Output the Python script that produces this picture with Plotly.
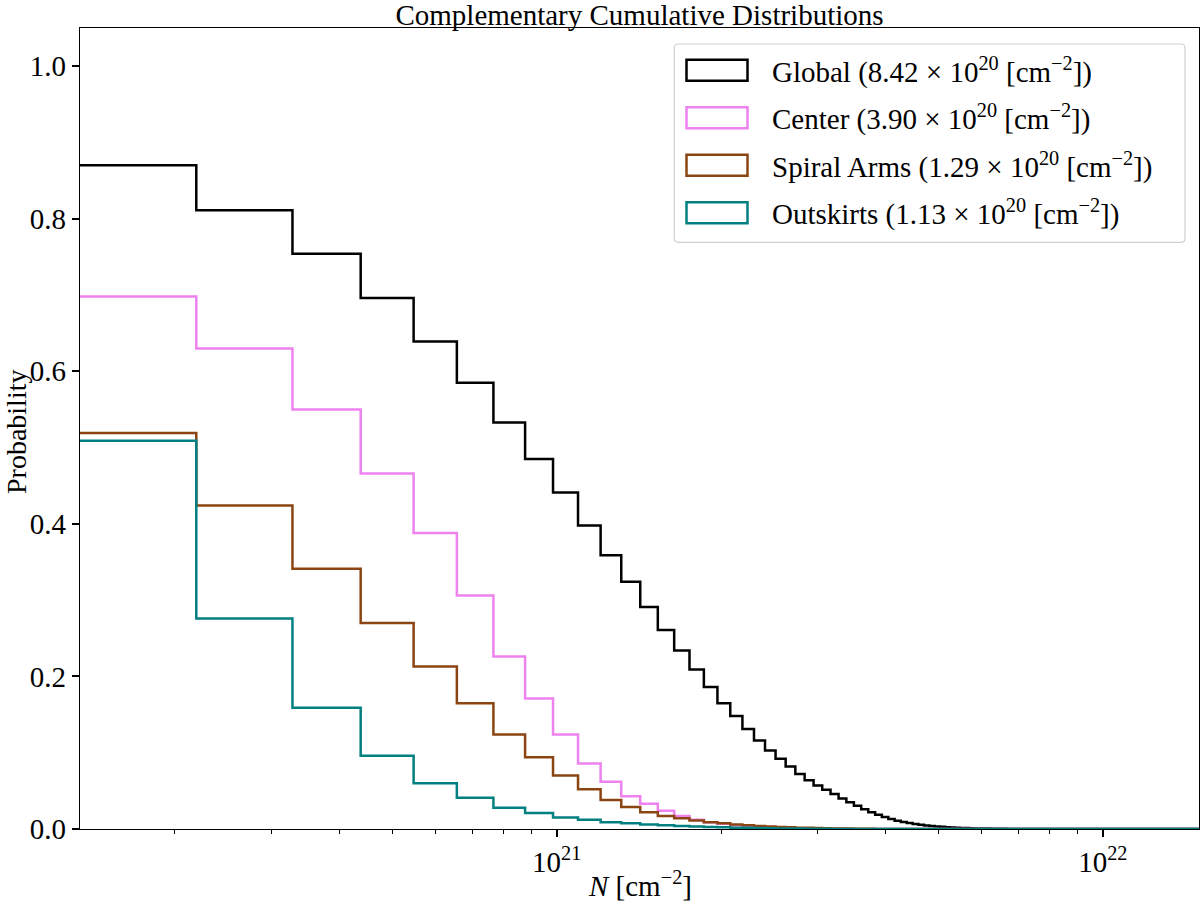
import numpy as np
import plotly.graph_objects as go

# histogram bin width of the column density bins [cm^-2]
bin_width = 1.094e20
n_bins = 137

# complementary cumulative probability per bin (bins 1..)
global_ccdf = [0.870, 0.811, 0.754, 0.696, 0.639, 0.585, 0.533, 0.485, 0.441, 0.398,
               0.359, 0.324, 0.291, 0.261, 0.234, 0.209, 0.186, 0.165, 0.148, 0.131,
               0.116, 0.103, 0.092, 0.082, 0.072, 0.064, 0.057, 0.0515, 0.046, 0.040,
               0.035, 0.0305, 0.026, 0.022, 0.0187, 0.0157, 0.0131, 0.0109, 0.0092, 0.0078,
               0.0066, 0.0056, 0.0047, 0.0040, 0.0034, 0.0029, 0.0024, 0.0020, 0.0017, 0.0014,
               0.0012, 0.0010, 0.0008, 0.0007, 0.0006, 0.0005, 0.0004, 0.0003, 0.0002, 0.0002,
               0.0001, 0.0001, 0.0]
center_ccdf = [0.698, 0.630, 0.550, 0.466, 0.388, 0.306, 0.226, 0.171, 0.124, 0.086,
               0.062, 0.043, 0.033, 0.024, 0.017, 0.012, 0.009, 0.007, 0.005, 0.004,
               0.003, 0.0025, 0.002, 0.0015, 0.001, 0.0008, 0.0006, 0.0004, 0.0003, 0.0002, 0.0]
spiral_ccdf = [0.519, 0.424, 0.341, 0.270, 0.213, 0.165, 0.124, 0.094, 0.070, 0.052,
               0.038, 0.029, 0.022, 0.017, 0.014, 0.011, 0.009, 0.0075, 0.006, 0.005,
               0.004, 0.0033, 0.0027, 0.0022, 0.0018, 0.0015, 0.0012, 0.0010, 0.0008, 0.0006,
               0.0005, 0.0004, 0.0003, 0.0002, 0.0]
outskirts_ccdf = [0.509, 0.276, 0.159, 0.096, 0.060, 0.041, 0.028, 0.021, 0.015, 0.012,
                  0.009, 0.0075, 0.006, 0.005, 0.004, 0.0033, 0.0027, 0.0022, 0.0018, 0.0015,
                  0.0012, 0.0010, 0.0008, 0.0006, 0.0005, 0.0004, 0.0003, 0.0002, 0.0]

series_names = ["Global", "Center", "Spiral Arms", "Outskirts"]
medians = ["8.42", "3.90", "1.29", "1.13"]
colors = ["black", "violet", "saddlebrown", "teal"]

x_min, x_max = 1.34e20, 1.5e22
major_ticks = [1e21, 1e22]
major_labels = ["10<sup>21</sup>", "10<sup>22</sup>"]
minor_ticks = [m * 10.0**e for e in (20, 21) for m in range(2, 10)]

FONT = "Liberation Serif"
L, R, T, B = 80, 1, 28, 78
W, H = 1200, 907


def px_x(px):
    return (px - L) / (W - L - R)


def px_y(py):
    return (H - B - py) / (H - T - B)


edges = bin_width * np.arange(1, n_bins + 2)

fig = go.Figure()
for name, vals, col in zip(series_names,
                           [global_ccdf, center_ccdf, spiral_ccdf, outskirts_ccdf], colors):
    v = list(vals) + [0.0] * (n_bins - len(vals))
    fig.add_trace(go.Scatter(x=edges, y=v + [v[-1]], mode="lines", name=name,
                             line=dict(color=col, width=2.5, shape="hv"),
                             showlegend=False, hoverinfo="skip"))

# legend drawn like a matplotlib legend with rectangle patches
bx0, bx1, by0, by1 = px_x(674.3), px_x(1185), px_y(44), px_y(242.3)
rx, ry = 4 / (W - L - R), 4 / (H - T - B)
box = (f"M{bx0 + rx},{by0} L{bx1 - rx},{by0} Q{bx1},{by0} {bx1},{by0 - ry} "
       f"L{bx1},{by1 + ry} Q{bx1},{by1} {bx1 - rx},{by1} L{bx0 + rx},{by1} "
       f"Q{bx0},{by1} {bx0},{by1 + ry} L{bx0},{by0 - ry} Q{bx0},{by0} {bx0 + rx},{by0} Z")
fig.add_shape(type="path", path=box, xref="paper", yref="paper",
              line=dict(color="#d0d0d0", width=1.2), fillcolor="rgba(255,255,255,0.8)")
row_y = [70.2, 117.7, 165.3, 212.7]
for name, med, col, ry_px in zip(series_names, medians, colors, row_y):
    fig.add_shape(type="rect", xref="paper", yref="paper",
                  x0=px_x(686.5), x1=px_x(747.5), y0=px_y(ry_px - 10.5), y1=px_y(ry_px + 10.5),
                  line=dict(color=col, width=2.5), fillcolor="rgba(0,0,0,0)")
    fig.add_annotation(xref="paper", yref="paper", x=px_x(770), y=px_y(ry_px),
                       xanchor="left", yanchor="middle", showarrow=False,
                       text=f"{name} ({med} × 10<sup>20</sup> [cm<sup>−2</sup>])",
                       font=dict(family=FONT, size=29, color="black"))

# axis titles
fig.add_annotation(xref="paper", yref="paper", x=px_x(640), y=px_y(884),
                   xanchor="center", yanchor="middle", showarrow=False,
                   text="<i>N</i> [cm<sup>−2</sup>]", font=dict(family=FONT, size=29))
fig.add_annotation(xref="paper", yref="paper", x=px_x(16), y=px_y(432),
                   xanchor="center", yanchor="middle", showarrow=False, textangle=-90,
                   text="Probability", font=dict(family=FONT, size=28))

fig.update_layout(
    width=W, height=H,
    margin=dict(l=L, r=R, t=T, b=B, autoexpand=False),
    paper_bgcolor="white", plot_bgcolor="white",
    font=dict(family=FONT, size=29, color="black"),
    title=dict(text="Complementary Cumulative Distributions", x=(L + (W - R)) / 2 / W,
               xanchor="center", y=1 - 15 / H, yanchor="middle", yref="container",
               font=dict(family=FONT, size=29), automargin=False),
    showlegend=False,
)
fig.update_xaxes(type="log", range=[np.log10(x_min), np.log10(x_max)],
                 tickmode="array", tickvals=major_ticks, ticktext=major_labels,
                 ticks="outside", ticklen=7, tickwidth=1.5, tickcolor="black",
                 minor=dict(tickmode="array", tickvals=minor_ticks, ticks="outside",
                            ticklen=4, tickwidth=1.2, tickcolor="black"),
                 showgrid=False, zeroline=False, automargin=False,
                 showline=True, linecolor="black", linewidth=1.2, mirror=True,
                 tickfont=dict(size=29))
fig.update_yaxes(range=[0, 1.05], tickmode="array",
                 tickvals=[0, 0.2, 0.4, 0.6, 0.8, 1.0], tickformat=".1f",
                 ticks="outside", ticklen=7, tickwidth=1.5, tickcolor="black",
                 showgrid=False, zeroline=False, automargin=False,
                 showline=True, linecolor="black", linewidth=1.2, mirror=True,
                 tickfont=dict(size=29))

# page body has a default 8px margin; drop it so the figure fills the window
fig.write_html("out.html", config={"displayModeBar": False},
               post_script="document.body.style.margin='0';")
